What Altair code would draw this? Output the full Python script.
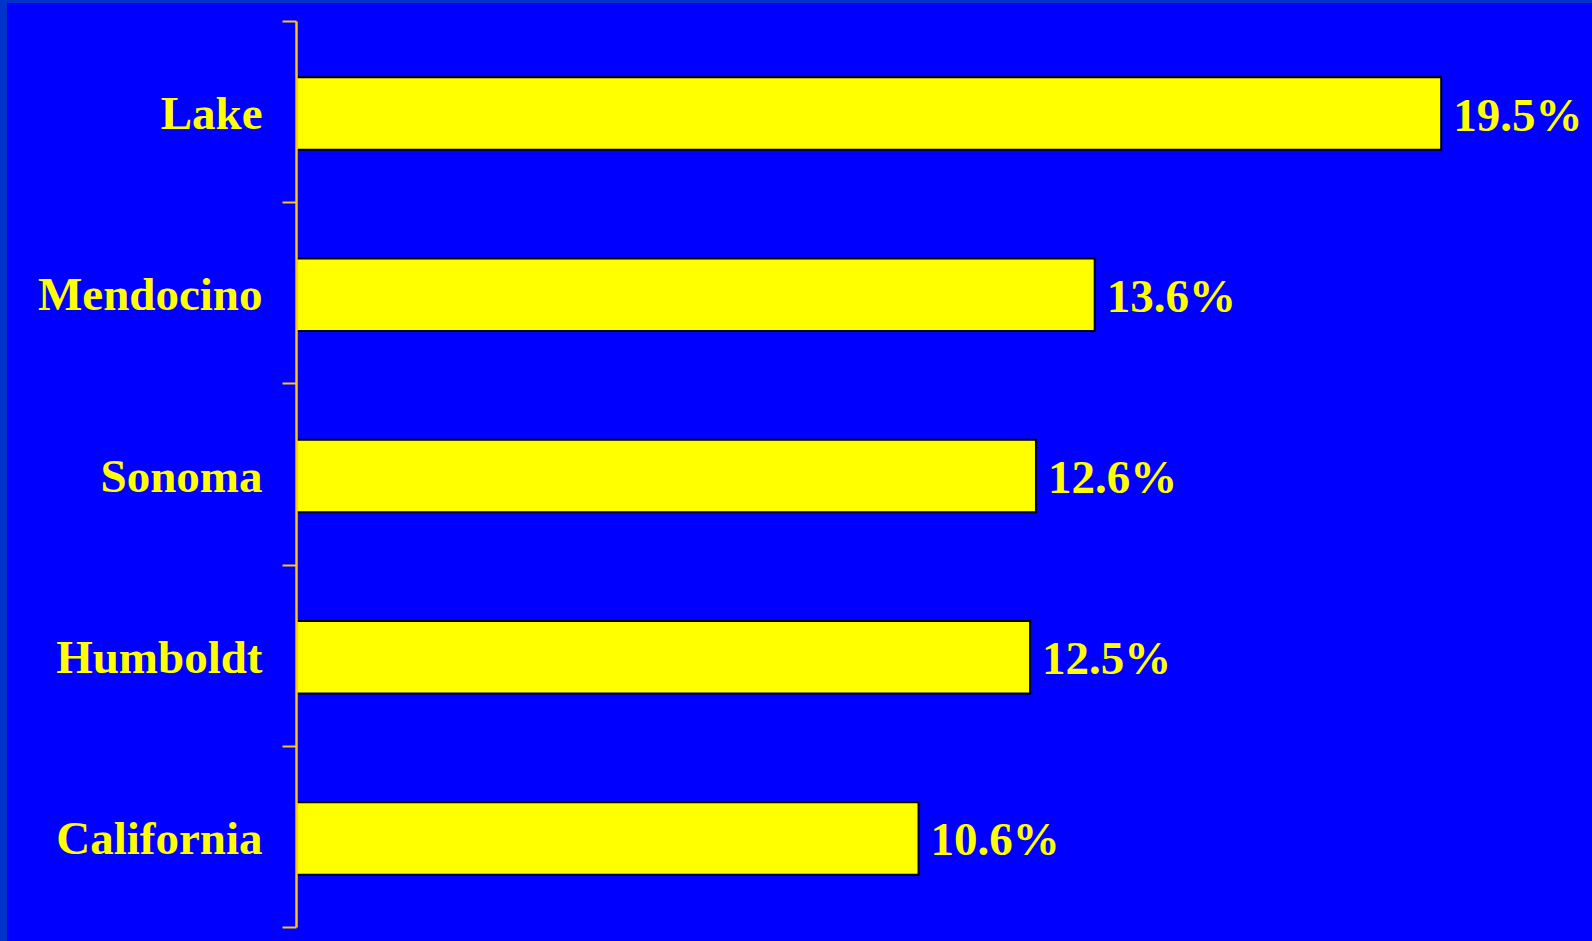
import altair as alt
import pandas as pd

regions = ["Lake", "Mendocino", "Sonoma", "Humboldt", "California"]
values = [19.5, 13.6, 12.6, 12.5, 10.6]
labels = ["19.5%", "13.6%", "12.6%", "12.5%", "10.6%"]

df = pd.DataFrame({"region": regions, "value": values, "label": labels})

W = 1292
H = 906
FONT = "Liberation Serif"

yenc = alt.Y(
    "region:N",
    sort=regions,
    scale=alt.Scale(paddingInner=0, paddingOuter=0),
    axis=alt.Axis(
        title=None,
        tickBand="extent",
        zindex=1,
        labelFont=FONT,
        labelFontSize=47,
        labelFontWeight="bold",
        labelColor="#FFFF00",
        labelPadding=20,
        labelLimit=0,
        labelOffset=3,
        tickSize=14,
        tickColor="#FFC800",
        tickWidth=2,
        domainColor="#FFC800",
        domainWidth=2.5,
    ),
)
xenc = alt.X("value:Q", scale=alt.Scale(domain=[0, 22]), axis=None)

bg = alt.Chart(pd.DataFrame({"a": [0]})).mark_rect(color="#0000FF").encode(
    x=alt.value(-289), x2=alt.value(W + 20), y=alt.value(-18), y2=alt.value(H + 30)
)

bars = alt.Chart(df).mark_bar(
    color="#FFFF00", stroke="#000000", strokeWidth=2, height={"band": 0.4}, yOffset=2
).encode(y=yenc, x=xenc)

text = alt.Chart(df).mark_text(
    align="left", baseline="middle", dx=12, dy=5,
    font=FONT, fontSize=47, fontWeight="bold", color="#FFFF00"
).encode(y=alt.Y("region:N", sort=regions), x=xenc, text="label:N")

chart = alt.layer(bg, bars, text).properties(
    width=W, height=H,
    background="#0033CC",
    padding={"left": 296, "top": 21, "right": 4, "bottom": 14},
    autosize=alt.AutoSizeParams(type="none"),
).configure_view(stroke=None)

chart.save("out.html", embed_options={"renderer": "svg", "actions": False})
